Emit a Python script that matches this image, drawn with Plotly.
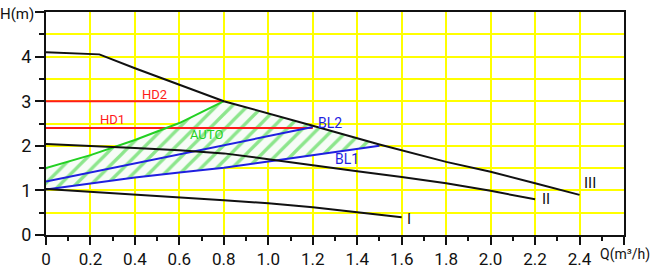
import plotly.graph_objects as go

# ---- data ----
q_III = [0, 0.24, 0.4, 0.6, 0.8, 1.2, 1.5, 1.8, 2.0, 2.2, 2.4]
h_III = [4.1, 4.05, 3.74, 3.37, 3.0, 2.45, 2.03, 1.64, 1.42, 1.16, 0.9]

q_II = [0, 0.2, 0.4, 0.6, 0.8, 1.0, 1.2, 1.4, 1.6, 1.8, 2.0, 2.2]
h_II = [2.04, 2.0, 1.95, 1.9, 1.83, 1.7, 1.56, 1.43, 1.3, 1.16, 0.99, 0.8]

q_I = [0, 0.2, 0.4, 0.6, 0.8, 1.0, 1.2, 1.4, 1.6]
h_I = [1.03, 0.97, 0.9, 0.84, 0.78, 0.71, 0.62, 0.51, 0.4]

q_BL1 = [0, 0.2, 0.4, 0.6, 0.8, 1.0, 1.2, 1.5]
h_BL1 = [1.02, 1.16, 1.29, 1.4, 1.51, 1.65, 1.79, 2.0]

q_BL2 = [0, 1.2]
h_BL2 = [1.2, 2.42]

q_AUTO_top = [0, 0.2, 0.4, 0.6, 0.8]
h_AUTO_top = [1.5, 1.79, 2.13, 2.51, 3.0]

q_HD1 = [0, 1.2]
h_HD1 = [2.4, 2.4]
q_HD2 = [0, 0.8]
h_HD2 = [3.0, 3.0]

x_ticks = [0, 0.2, 0.4, 0.6, 0.8, 1.0, 1.2, 1.4, 1.6, 1.8, 2.0, 2.2, 2.4, 2.6]
x_labels = ["0", "0.2", "0.4", "0.6", "0.8", "1.0", "1.2", "1.4", "1.6", "1.8", "2.0", "2.2", "2.4", ""]
y_ticks = [0, 1, 2, 3, 4, 5]
y_labels = ["0", "1", "2", "3", "4", ""]

FONT = "Roboto, Liberation Sans, sans-serif"
GREEN = "#22d022"
BLUE = "#1f1fe0"
RED = "#ff1a1a"
BLACK = "#111111"
YELLOW = "#ffff00"

fig = go.Figure()

# AUTO hatched region: green top line, curve III from 0.8 to 1.5, BL1 back to 0
seg_q = [q for q in q_III if 0.8 < q <= 1.5]
seg_h = [h for q, h in zip(q_III, h_III) if 0.8 < q <= 1.5]
poly_q = q_AUTO_top + seg_q + q_BL1[::-1]
poly_h = h_AUTO_top + seg_h + h_BL1[::-1]
fig.add_trace(go.Scatter(
    x=poly_q, y=poly_h, mode="lines", fill="toself",
    line=dict(width=0, color=GREEN),
    fillcolor="rgba(0,0,0,0)",
    fillpattern=dict(shape="/", fgcolor=GREEN, bgcolor="#f7fcf7", size=11, solidity=0.3),
    hoverinfo="skip", showlegend=False))

def line(x, y, color, width=2):
    fig.add_trace(go.Scatter(x=x, y=y, mode="lines", line=dict(color=color, width=width),
                             showlegend=False, hoverinfo="skip"))

line(q_HD2, h_HD2, RED)
line(q_HD1, h_HD1, RED)
line(q_AUTO_top, h_AUTO_top, GREEN)
line(q_BL2, h_BL2, BLUE)
line(q_BL1, h_BL1, BLUE)
line(q_III, h_III, BLACK)
line(q_II, h_II, BLACK)
line(q_I, h_I, BLACK)

def label(x, y, text, color, size=14, xanchor="center"):
    fig.add_annotation(x=x, y=y, text=text, showarrow=False, xanchor=xanchor,
                       font=dict(family=FONT, size=size, color=color))

label(0.49, 3.16, "HD2", RED, 13)
label(0.30, 2.58, "HD1", RED, 13)
label(0.72, 2.25, "AUTO", GREEN, 13)
label(1.215, 2.52, "BL2", BLUE, 14, "left")
label(1.29, 1.7, "BL1", BLUE, 14, "left")
label(1.615, 0.37, "I", BLACK, 15, "left")
label(2.22, 0.8, "II", BLACK, 15, "left")
label(2.41, 1.17, "III", BLACK, 15, "left")

# axis titles placed at the axis ends
fig.add_annotation(x=0, y=1, xref="paper", yref="paper", xanchor="right", yanchor="middle",
                   xshift=-10, yshift=-2, text="H(m)",
                   showarrow=False, font=dict(family=FONT, size=15, color=BLACK))
fig.add_annotation(x=1, y=0, xref="paper", yref="paper", xanchor="right", yanchor="top",
                   xshift=28, yshift=-9, text="Q(m³/h)",
                   showarrow=False, font=dict(family=FONT, size=14, color=BLACK))

fig.update_layout(
    width=654, height=269, autosize=False,
    margin=dict(l=46, r=30, t=12, b=34, autoexpand=False),
    paper_bgcolor="white", plot_bgcolor="white",
    showlegend=False,
)
fig.update_xaxes(
    range=[0, 2.6], tickmode="array", tickvals=x_ticks, ticktext=x_labels,
    showgrid=True, gridcolor=YELLOW, gridwidth=2,
    showline=True, linecolor=BLACK, linewidth=2, mirror=True,
    ticks="outside", ticklen=8, tickwidth=2, tickcolor=BLACK,
    tickfont=dict(family=FONT, size=17, color=BLACK),
    minor=dict(tickmode="array", tickvals=[0.1 + 0.2 * i for i in range(13)],
               ticks="outside", ticklen=4, tickwidth=2, tickcolor=BLACK, showgrid=False),
    zeroline=False, fixedrange=True, automargin=False,
)
fig.update_yaxes(
    range=[0, 5], tickmode="array", tickvals=y_ticks, ticktext=y_labels,
    showgrid=True, gridcolor=YELLOW, gridwidth=2,
    showline=True, linecolor=BLACK, linewidth=2, mirror=True,
    ticks="outside", ticklen=9, tickwidth=2, tickcolor=BLACK,
    tickfont=dict(family=FONT, size=18, color=BLACK),
    minor=dict(tickmode="array", tickvals=[0.5, 1.5, 2.5, 3.5, 4.5],
               ticks="outside", ticklen=5, tickwidth=2, tickcolor=BLACK,
               showgrid=True, gridcolor=YELLOW, gridwidth=2),
    zeroline=False, fixedrange=True, automargin=False,
)

fig.write_html("out.html", config={"displayModeBar": False},
               post_script="document.body.style.margin='0';document.body.style.overflow='hidden';")
